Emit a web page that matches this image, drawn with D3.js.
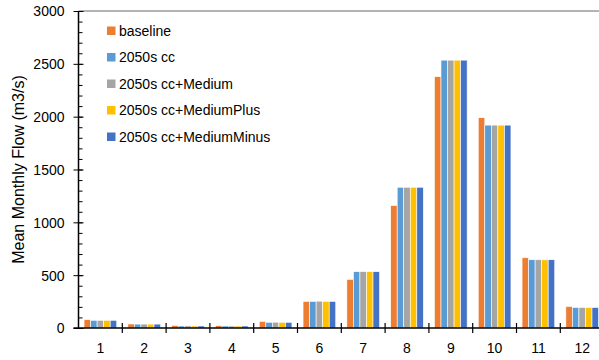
<!DOCTYPE html>
<html>
<head>
<meta charset="utf-8">
<script src="https://cdn.jsdelivr.net/npm/d3@7"></script>
<style>
  body { margin: 0; background: #fff; }
  text { font-family: "Liberation Sans", Arial, sans-serif; fill: #000; }
</style>
</head>
<body>
<div id="chart"></div>
<script>
const width = 599
const height = 360

const months = ['1', '2', '3', '4', '5', '6', '7', '8', '9', '10', '11', '12']
const seriesNames = ['baseline', '2050s cc', '2050s cc+Medium', '2050s cc+MediumPlus', '2050s cc+MediumMinus']
const baseline = [79, 38, 25, 22, 63, 252, 460, 1158, 2378, 1990, 665, 204]
const cc = [73, 37, 19, 19, 54, 252, 533, 1332, 2535, 1920, 646, 194]
const ccMedium = [73, 37, 20, 19, 55, 254, 534, 1332, 2535, 1920, 646, 194]
const ccMediumPlus = [73, 37, 19, 19, 54, 252, 533, 1332, 2535, 1920, 645, 194]
const ccMediumMinus = [73, 37, 19, 19, 54, 252, 533, 1332, 2535, 1920, 646, 194]
const yTicks = [0, 500, 1000, 1500, 2000, 2500, 3000]
const colors = ['#ED7D31', '#5B9BD5', '#A5A5A5', '#FFC000', '#4472C4']

const seriesValues = [baseline, cc, ccMedium, ccMediumPlus, ccMediumMinus]
const rows = months.map((m, i) => ({
    month: m,
    values: seriesNames.map((s, j) => ({ series: s, value: seriesValues[j][i] }))
}))

const plotLeft = 78.5
const plotTop = 11
const plotBottom = 328
const plotRight = plotLeft + 12 * 43.8

const svg = d3.select('#chart')
    .append('svg')
    .attr('width', width)
    .attr('height', height)

const xScale = d3.scaleBand()
    .domain(months)
    .range([plotLeft, plotRight])

const subScale = d3.scaleBand()
    .domain(seriesNames)
    .range([0, xScale.bandwidth()])
    .paddingOuter(0.85)

const yScale = d3.scaleLinear()
    .domain([0, 3000])
    .range([plotBottom, plotTop])

const color = d3.scaleOrdinal().domain(seriesNames).range(colors)

// top border
svg.append('line')
    .attr('x1', plotLeft).attr('x2', width)
    .attr('y1', yScale(3000)).attr('y2', yScale(3000))
    .attr('stroke', '#6b6b6b')
    .attr('stroke-width', 1.2)

// bars
svg.append('g')
    .selectAll('g')
    .data(rows)
    .join('g')
    .attr('transform', d => `translate(${xScale(d.month)},0)`)
    .selectAll('rect')
    .data(d => d.values)
    .join('rect')
    .attr('x', d => subScale(d.series))
    .attr('width', subScale.bandwidth())
    .attr('y', d => yScale(d.value))
    .attr('height', d => yScale(0) - yScale(d.value))
    .attr('fill', d => color(d.series))
    .attr('stroke', '#fff')
    .attr('stroke-width', 0.6)

// y axis: minor ticks inside, major crossing
const yAxisG = svg.append('g')
    .attr('transform', `translate(${plotLeft},0)`)

yAxisG.append('g')
    .call(d3.axisRight(yScale).tickValues(d3.range(0, 3001, 100)).tickSize(4).tickFormat(''))
    .call(g => g.select('.domain').remove())

yAxisG.append('g')
    .call(d3.axisLeft(yScale).tickValues(yTicks).tickSize(5).tickPadding(9).tickFormat(d3.format('d')))
    .call(g => g.selectAll('.tick line').attr('x2', 5).attr('x1', -5))
    .call(g => g.select('.domain').attr('d', `M0,${plotBottom}V${plotTop}`).attr('stroke-width', 1.5))
    .call(g => g.selectAll('text').style('font-size', '14px').attr('dy', '0.35em'))

// x axis
const xAxisG = svg.append('g')
    .attr('transform', `translate(0,${plotBottom})`)

xAxisG.append('g')
    .call(d3.axisBottom(xScale).tickSize(0).tickPadding(15))
    .call(g => g.select('.domain').remove())
    .call(g => g.selectAll('text').style('font-size', '14px'))

xAxisG.append('line')
    .attr('x1', plotLeft - 5).attr('x2', width)
    .attr('stroke', '#000')
    .attr('stroke-width', 1.5)

xAxisG.selectAll('.cat-tick')
    .data(months.slice(1))
    .join('line')
    .attr('class', 'cat-tick')
    .attr('x1', d => xScale(d)).attr('x2', d => xScale(d))
    .attr('y1', -5).attr('y2', 5)
    .attr('stroke', '#000')
    .attr('stroke-width', 1.2)

// y axis title
svg.append('text')
    .attr('transform', `translate(24,${(plotTop + plotBottom) / 2}) rotate(-90)`)
    .attr('text-anchor', 'middle')
    .style('font-size', '16px')
    .text('Mean Monthly Flow (m3/s)')

// legend
const legend = svg.append('g')
    .selectAll('g')
    .data(seriesNames)
    .join('g')
    .attr('transform', (d, i) => `translate(107,${26.5 + i * 26.5})`)

legend.append('rect')
    .attr('width', 8.5)
    .attr('height', 8.5)
    .attr('fill', d => color(d))

legend.append('text')
    .attr('x', 12)
    .attr('y', 4.5)
    .attr('dy', '0.35em')
    .style('font-size', '14px')
    .text(d => d)
</script>
</body>
</html>
